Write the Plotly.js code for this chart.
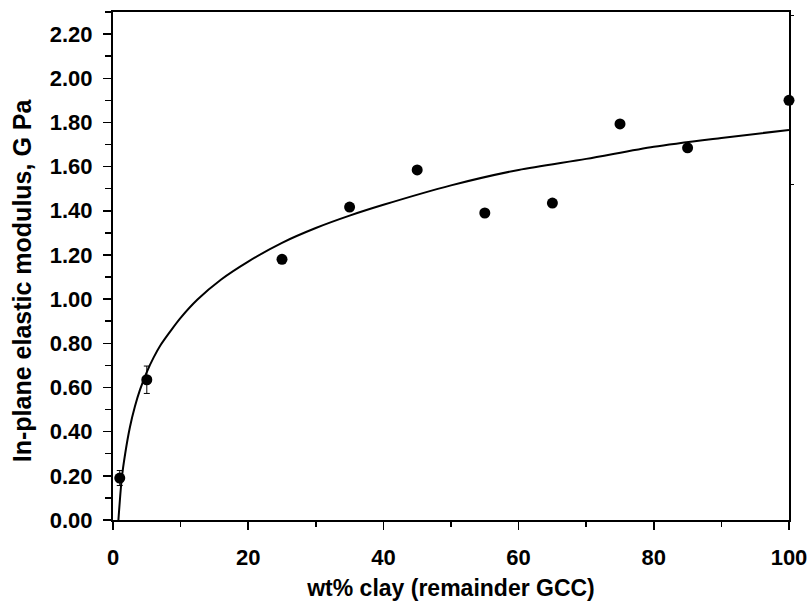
<!DOCTYPE html>
<html>
<head>
<meta charset="utf-8">
<script src="https://cdn.plot.ly/plotly-3.0.1.min.js"></script>
<style>html,body{margin:0;padding:0;background:#fff;}#chart{width:811px;height:604px;}</style>
</head>
<body>
<div id="chart"></div>
<script>
// Measured data points (wt% clay vs in-plane elastic modulus, GPa)
var clayPct = [1, 5, 25, 35, 45, 55, 65, 75, 85, 100];
var modulus = [0.19, 0.635, 1.18, 1.417, 1.585, 1.39, 1.435, 1.793, 1.685, 1.90];
var modulusErr = [0.034, 0.062, 0, 0, 0, 0, 0, 0, 0, 0];

// Fitted trend curve
var curveX = [0.8, 1.3, 1.8, 2.5, 3.25, 4, 5, 6, 7, 8.5, 10, 12.5, 16, 20, 25, 30, 35, 40, 50, 60, 70, 80, 90, 100];
var curveY = [0.0, 0.19, 0.30, 0.42, 0.515, 0.59, 0.67, 0.735, 0.79, 0.855, 0.915, 0.998, 1.089, 1.17, 1.255, 1.322, 1.378, 1.427, 1.515, 1.585, 1.635, 1.69, 1.73, 1.766];

// Odd ticks on the right-hand frame
var rightTicks = [2.285, 1.518];

var xTitle = 'wt% clay (remainder GCC)';
var yTitle = 'In-plane elastic modulus, G Pa';

var FONT = 'Liberation Sans, Arial, sans-serif';

var traces = [
  {
    x: curveX, y: curveY, type: 'scatter', mode: 'lines',
    line: {color: '#000', width: 2, shape: 'spline', smoothing: 0.8},
    hoverinfo: 'skip', showlegend: false
  },
  {
    x: clayPct, y: modulus, type: 'scatter', mode: 'markers',
    marker: {color: '#000', size: 11, symbol: 'circle'},
    error_y: {type: 'data', array: modulusErr, visible: true, color: '#000', thickness: 1, width: 3},
    showlegend: false, cliponaxis: false
  },
  {
    x: [100], y: [1.0], yaxis: 'y2', type: 'scatter', mode: 'markers',
    marker: {opacity: 0, size: 1}, hoverinfo: 'skip', showlegend: false
  }
];

var layout = {
  width: 811, height: 604,
  margin: {l: 113, r: 22, t: 12, b: 84, pad: 0},
  paper_bgcolor: '#fff', plot_bgcolor: '#fff',
  font: {family: FONT, color: '#000'},
  showlegend: false,
  xaxis: {
    range: [0, 100], dtick: 20, tick0: 0,
    showgrid: false, zeroline: false,
    showline: true, linecolor: '#000', linewidth: 2, mirror: true,
    ticks: 'outside', ticklen: 8, tickwidth: 1.5, tickcolor: '#000',
    minor: {dtick: 10, ticks: 'outside', ticklen: 5, tickwidth: 1.5, tickcolor: '#000'},
    tickfont: {family: FONT, size: 22, color: '#000', weight: 'bold'},
    ticklabelstandoff: 9,
    title: {text: '<b>' + xTitle + '</b>', font: {family: FONT, size: 23, color: '#000'}, standoff: 10}
  },
  yaxis: {
    range: [0, 2.3], dtick: 0.2, tick0: 0, tickformat: '.2f',
    showgrid: false, zeroline: false,
    showline: true, linecolor: '#000', linewidth: 2, mirror: true,
    ticks: 'outside', ticklen: 8, tickwidth: 1.5, tickcolor: '#000',
    minor: {dtick: 0.1, ticks: 'outside', ticklen: 6, tickwidth: 1.5, tickcolor: '#000'},
    tickfont: {family: FONT, size: 22, color: '#000', weight: 'bold'},
    ticklabelstandoff: 6
  },
  yaxis2: {
    overlaying: 'y', side: 'right', range: [0, 2.3],
    tickmode: 'array', tickvals: rightTicks, showticklabels: false,
    ticks: 'outside', ticklen: 4, tickwidth: 1, tickcolor: '#000',
    showgrid: false, zeroline: false, showline: false
  },
  annotations: [{
    text: '<b>' + yTitle + '</b>', textangle: -90,
    xref: 'paper', yref: 'paper', x: 0, y: 0.472,
    xanchor: 'center', yanchor: 'middle', xshift: -91,
    showarrow: false, font: {family: FONT, size: 25, color: '#000'}
  }]
};

Plotly.newPlot('chart', traces, layout, {displayModeBar: false, staticPlot: true});
</script>
</body>
</html>
